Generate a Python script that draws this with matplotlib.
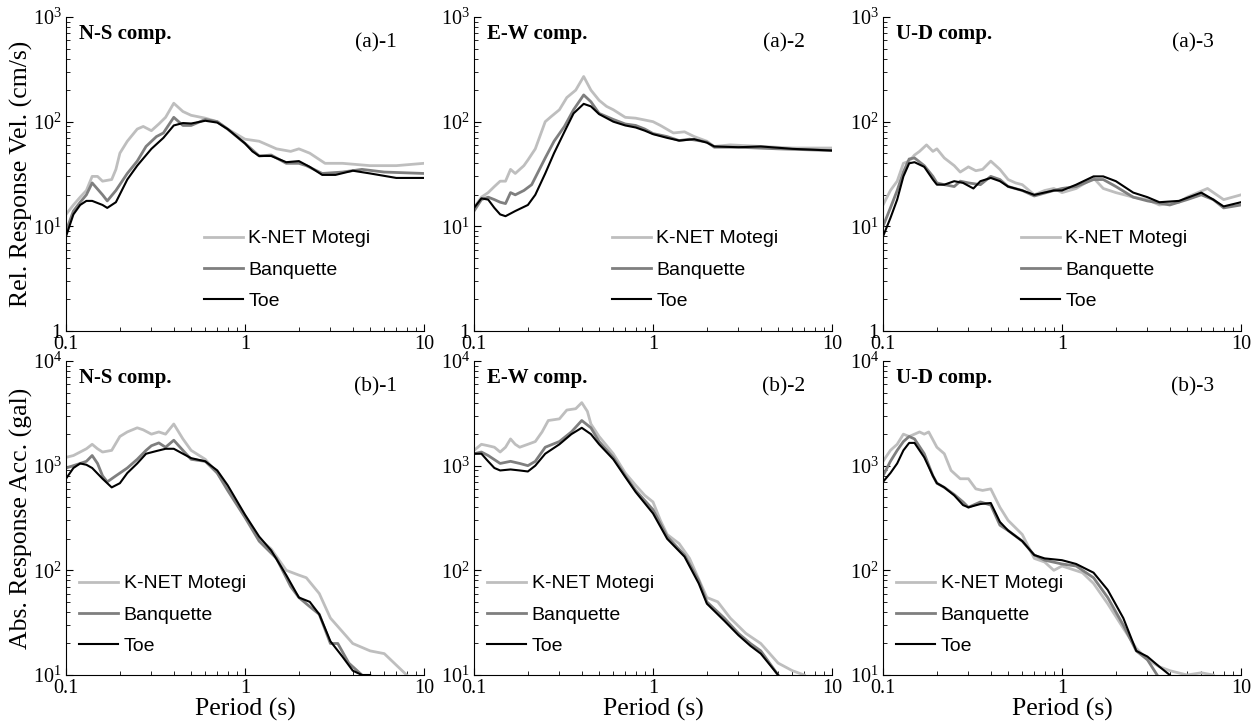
import matplotlib
matplotlib.use('Agg')
import matplotlib.pyplot as plt
from matplotlib.ticker import LogLocator, NullFormatter

plt.rcParams['font.family'] = 'Liberation Serif'
plt.rcParams['mathtext.fontset'] = 'custom'
plt.rcParams['mathtext.rm'] = 'Liberation Serif'
plt.rcParams['mathtext.it'] = 'Liberation Serif:italic'

# ---- (a)-1 N-S relative response velocity (cm/s)
a1_knet_T = [0.1, 0.11, 0.12, 0.13, 0.14, 0.15, 0.16, 0.18, 0.19, 0.2, 0.22, 0.25, 0.27, 0.3, 0.33, 0.36, 0.4, 0.45, 0.5, 0.6, 0.7, 0.8, 1.0, 1.2, 1.5, 1.8, 2.0, 2.3, 2.8, 3.5, 5, 7, 10]
a1_knet_V = [13, 16, 19, 22, 30, 30, 27, 28, 35, 50, 65, 85, 90, 82, 95, 110, 150, 125, 115, 108, 100, 85, 68, 65, 55, 52, 55, 50, 40, 40, 38, 38, 40]
a1_banq_T = [0.1, 0.11, 0.12, 0.13, 0.14, 0.16, 0.17, 0.19, 0.22, 0.25, 0.28, 0.32, 0.35, 0.4, 0.45, 0.5, 0.6, 0.7, 0.8, 1.0, 1.2, 1.4, 1.7, 2.0, 2.2, 2.7, 3.5, 4.5, 6, 10]
a1_banq_V = [9, 14, 17, 20, 26, 20, 17.5, 22, 32, 42, 58, 72, 78, 110, 92, 92, 105, 100, 85, 62, 47, 48, 40, 40, 38, 32, 33, 35, 33, 32]
a1_toe_T = [0.1, 0.11, 0.12, 0.13, 0.14, 0.16, 0.17, 0.19, 0.22, 0.25, 0.3, 0.35, 0.4, 0.45, 0.5, 0.6, 0.7, 0.8, 1.0, 1.1, 1.2, 1.4, 1.7, 2.0, 2.3, 2.7, 3.2, 4, 5, 7, 10]
a1_toe_V = [8, 13, 16, 17.5, 17.5, 16, 15, 17, 28, 38, 55, 70, 92, 97, 96, 102, 98, 85, 62, 52, 47, 47, 41, 42, 37, 31, 31, 34, 32, 29, 29]

# ---- (a)-2 E-W
a2_knet_T = [0.1, 0.11, 0.12, 0.13, 0.14, 0.15, 0.16, 0.17, 0.19, 0.2, 0.22, 0.25, 0.27, 0.3, 0.33, 0.37, 0.41, 0.45, 0.5, 0.55, 0.6, 0.7, 0.8, 1.0, 1.1, 1.3, 1.5, 1.7, 2.0, 2.2, 2.7, 4, 6, 10]
a2_knet_V = [15, 19, 21, 24, 27, 27, 35, 32, 38, 43, 55, 100, 112, 130, 170, 200, 270, 200, 160, 140, 130, 110, 108, 100, 92, 78, 80, 72, 65, 58, 60, 58, 56, 56]
a2_banq_T = [0.1, 0.11, 0.12, 0.13, 0.14, 0.15, 0.16, 0.17, 0.19, 0.21, 0.25, 0.28, 0.32, 0.36, 0.41, 0.45, 0.5, 0.6, 0.7, 0.8, 0.9, 1.0, 1.2, 1.4, 1.6, 2.0, 2.2, 3, 5, 10]
a2_banq_V = [14, 18, 19, 18, 17, 16.5, 21, 20, 22, 25, 45, 65, 90, 130, 180, 155, 120, 105, 95, 92, 85, 77, 72, 66, 68, 64, 57, 57, 55, 53]
a2_toe_T = [0.1, 0.11, 0.12, 0.13, 0.14, 0.15, 0.17, 0.2, 0.22, 0.25, 0.28, 0.32, 0.36, 0.41, 0.45, 0.5, 0.6, 0.7, 0.8, 0.9, 1.0, 1.2, 1.4, 1.7, 2.0, 2.2, 3, 4, 6, 10]
a2_toe_V = [15, 18.5, 18, 15, 13, 12.5, 14, 16, 20, 32, 50, 80, 120, 148, 140, 118, 100, 92, 88, 82, 76, 70, 66, 68, 63, 58, 57, 58, 55, 53]

# ---- (a)-3 U-D
a3_knet_T = [0.1, 0.11, 0.12, 0.13, 0.14, 0.15, 0.16, 0.175, 0.19, 0.2, 0.22, 0.25, 0.27, 0.3, 0.33, 0.36, 0.4, 0.45, 0.5, 0.55, 0.6, 0.7, 0.8, 0.9, 1.0, 1.2, 1.5, 1.7, 2.0, 2.5, 3, 3.5, 4.5, 5, 6.5, 8, 10]
a3_knet_V = [16, 22, 27, 40, 42, 48, 52, 60, 52, 55, 45, 38, 33, 37, 34, 35, 42, 35, 28, 26, 25, 20, 22, 23, 21, 23, 29, 23, 21, 19, 18, 16, 17, 19, 23, 18, 20]
a3_banq_T = [0.1, 0.11, 0.12, 0.13, 0.14, 0.15, 0.17, 0.19, 0.2, 0.22, 0.25, 0.27, 0.3, 0.35, 0.4, 0.45, 0.5, 0.6, 0.7, 0.9, 1.0, 1.2, 1.5, 1.7, 2.0, 2.5, 3, 4, 5, 6, 7, 8, 10]
a3_banq_V = [10, 15, 22, 33, 44, 45, 38, 30, 26, 25, 24, 27, 26, 25, 30, 28, 24, 22, 19.5, 22, 23, 24, 28, 28, 24, 19, 17.5, 16, 18, 20, 18, 15, 16]
a3_toe_T = [0.1, 0.11, 0.12, 0.13, 0.14, 0.15, 0.17, 0.19, 0.2, 0.22, 0.25, 0.28, 0.32, 0.35, 0.4, 0.45, 0.5, 0.6, 0.7, 0.9, 1.0, 1.2, 1.5, 1.7, 2.0, 2.5, 3, 3.5, 4.5, 6, 7, 8, 10]
a3_toe_V = [8, 12, 18, 30, 40, 41, 37, 28, 25, 25, 27, 26, 23, 27, 29, 27, 24, 22, 20, 22, 22, 25, 30, 30, 27, 21, 19, 17, 17.5, 21, 18, 15.5, 17]

# ---- (b)-1 N-S absolute response acceleration (gal)
b1_knet_T = [0.1, 0.11, 0.12, 0.13, 0.14, 0.15, 0.16, 0.18, 0.2, 0.22, 0.25, 0.27, 0.3, 0.33, 0.36, 0.4, 0.45, 0.5, 0.6, 0.7, 0.8, 1.0, 1.2, 1.4, 1.7, 2.0, 2.2, 2.6, 3, 4, 5, 6, 8]
b1_knet_A = [1200, 1250, 1350, 1450, 1600, 1450, 1350, 1400, 1900, 2100, 2300, 2200, 2000, 2100, 2000, 2500, 1800, 1400, 1150, 850, 600, 330, 200, 160, 100, 90, 85, 60, 35, 20, 17, 16, 10]
b1_banq_T = [0.1, 0.11, 0.12, 0.13, 0.14, 0.15, 0.16, 0.17, 0.19, 0.22, 0.25, 0.28, 0.3, 0.33, 0.36, 0.4, 0.45, 0.5, 0.6, 0.7, 0.8, 1.0, 1.2, 1.5, 1.8, 2.0, 2.3, 2.6, 3, 3.3, 3.8, 4.5]
b1_banq_A = [950, 1000, 1050, 1100, 1250, 1050, 800, 700, 800, 950, 1150, 1400, 1550, 1650, 1500, 1750, 1400, 1150, 1100, 850, 580, 320, 190, 130, 70, 55, 45, 38, 20, 20, 13, 10]
b1_toe_T = [0.1, 0.11, 0.12, 0.13, 0.14, 0.16, 0.18, 0.2, 0.22, 0.25, 0.28, 0.32, 0.36, 0.4, 0.45, 0.5, 0.6, 0.7, 0.8, 1.0, 1.2, 1.4, 1.7, 2.0, 2.3, 2.6, 3, 3.5, 4, 4.5, 5]
b1_toe_A = [750, 950, 1050, 1020, 950, 750, 620, 680, 850, 1050, 1300, 1380, 1450, 1450, 1300, 1180, 1100, 900, 650, 340, 210, 155, 90, 55, 50, 38, 21, 15, 11, 10, 10]

# ---- (b)-2 E-W
b2_knet_T = [0.1, 0.11, 0.12, 0.13, 0.14, 0.15, 0.16, 0.17, 0.18, 0.2, 0.22, 0.24, 0.26, 0.3, 0.33, 0.37, 0.4, 0.43, 0.45, 0.5, 0.6, 0.7, 0.8, 0.9, 1.0, 1.1, 1.2, 1.4, 1.6, 2.0, 2.3, 2.7, 3.3, 4, 5, 6, 7]
b2_knet_A = [1400, 1600, 1550, 1500, 1350, 1500, 1800, 1600, 1500, 1600, 1700, 2100, 2700, 2800, 3400, 3500, 4000, 3300, 2500, 1900, 1300, 850, 650, 520, 450, 300, 220, 180, 130, 55, 50, 35, 25, 20, 13, 11, 10]
b2_banq_T = [0.1, 0.11, 0.12, 0.14, 0.16, 0.18, 0.2, 0.22, 0.25, 0.3, 0.35, 0.4, 0.45, 0.5, 0.6, 0.7, 0.8, 1.0, 1.2, 1.5, 1.8, 2.0, 2.5, 3, 3.5, 4, 5]
b2_banq_A = [1300, 1350, 1250, 1050, 1100, 1050, 1000, 1100, 1500, 1700, 2100, 2700, 2300, 1700, 1200, 800, 580, 380, 210, 140, 80, 50, 35, 25, 20, 17, 10]
b2_toe_T = [0.1, 0.11, 0.12, 0.13, 0.14, 0.16, 0.18, 0.2, 0.22, 0.25, 0.3, 0.35, 0.4, 0.45, 0.5, 0.6, 0.7, 0.8, 1.0, 1.2, 1.5, 1.8, 2.0, 2.5, 3, 3.5, 4, 5]
b2_toe_A = [1300, 1300, 1100, 950, 900, 920, 900, 880, 1000, 1300, 1600, 2000, 2300, 2000, 1600, 1150, 780, 560, 350, 200, 135, 75, 48, 33, 24, 19, 16, 10]

# ---- (b)-3 U-D
b3_knet_T = [0.1, 0.11, 0.12, 0.13, 0.14, 0.15, 0.16, 0.17, 0.18, 0.2, 0.22, 0.24, 0.27, 0.3, 0.33, 0.36, 0.4, 0.45, 0.5, 0.6, 0.7, 0.8, 0.9, 1.0, 1.3, 1.5, 1.8, 2.2, 2.6, 3, 3.5, 4, 5, 6, 7]
b3_knet_A = [1100, 1400, 1600, 2000, 1900, 2000, 2100, 2000, 2100, 1500, 1300, 900, 750, 750, 600, 580, 600, 400, 300, 220, 130, 120, 100, 110, 95, 75, 48, 28, 18, 14, 12, 11, 10, 10.5, 10]
b3_banq_T = [0.1, 0.11, 0.12, 0.13, 0.14, 0.15, 0.17, 0.19, 0.2, 0.22, 0.25, 0.28, 0.3, 0.35, 0.4, 0.45, 0.5, 0.6, 0.7, 0.8, 1.0, 1.2, 1.5, 1.8, 2.2, 2.6, 3, 3.4]
b3_banq_A = [800, 1100, 1400, 1700, 1900, 1800, 1300, 800, 680, 620, 530, 450, 400, 450, 420, 270, 240, 190, 140, 125, 115, 110, 85, 55, 30, 17, 14, 10]
b3_toe_T = [0.1, 0.11, 0.12, 0.13, 0.14, 0.15, 0.17, 0.19, 0.2, 0.22, 0.25, 0.28, 0.3, 0.35, 0.4, 0.45, 0.5, 0.6, 0.7, 0.8, 1.0, 1.2, 1.5, 1.8, 2.2, 2.6, 3, 3.5, 4]
b3_toe_A = [700, 850, 1050, 1400, 1650, 1650, 1200, 800, 680, 620, 520, 420, 400, 430, 440, 290, 240, 190, 140, 130, 125, 115, 95, 65, 35, 17, 15, 12, 10]

labels = ['K-NET Motegi', 'Banquette', 'Toe']
colors = ['#bebebe', '#7f7f7f', '#000000']
widths = [2.0, 2.0, 1.5]

panels = [
    ('N-S comp.', '(a)-1', [(a1_knet_T, a1_knet_V), (a1_banq_T, a1_banq_V), (a1_toe_T, a1_toe_V)]),
    ('E-W comp.', '(a)-2', [(a2_knet_T, a2_knet_V), (a2_banq_T, a2_banq_V), (a2_toe_T, a2_toe_V)]),
    ('U-D comp.', '(a)-3', [(a3_knet_T, a3_knet_V), (a3_banq_T, a3_banq_V), (a3_toe_T, a3_toe_V)]),
    ('N-S comp.', '(b)-1', [(b1_knet_T, b1_knet_A), (b1_banq_T, b1_banq_A), (b1_toe_T, b1_toe_A)]),
    ('E-W comp.', '(b)-2', [(b2_knet_T, b2_knet_A), (b2_banq_T, b2_banq_A), (b2_toe_T, b2_toe_A)]),
    ('U-D comp.', '(b)-3', [(b3_knet_T, b3_knet_A), (b3_banq_T, b3_banq_A), (b3_toe_T, b3_toe_A)]),
]

W, H = 1260, 724
fig = plt.figure(figsize=(W / 100, H / 100), dpi=100)

lefts = [66, 474, 883]
aw, ah = 358, 314
bottoms = [331, 675]

for i, (comp, tag, series) in enumerate(panels):
    row, col = divmod(i, 3)
    ax = fig.add_axes([lefts[col] / W, (H - bottoms[row]) / H, aw / W, ah / H])
    for (T, v), lab, c, lw in zip(series, labels, colors, widths):
        ax.plot(T, v, color=c, lw=lw, label=lab)
    ax.set_xscale('log')
    ax.set_yscale('log')
    ax.set_xlim(0.1, 10)
    if row == 0:
        ax.set_ylim(1, 1000)
        ax.set_yticks([1, 10, 100, 1000])
        ax.set_yticklabels(['1', '$10^1$', '$10^2$', '$10^3$'])
    else:
        ax.set_ylim(10, 10000)
        ax.set_yticks([10, 100, 1000, 10000])
        ax.set_yticklabels(['$10^1$', '$10^2$', '$10^3$', '$10^4$'])
    ax.set_xticks([0.1, 1, 10])
    ax.set_xticklabels(['0.1', '1', '10'])
    ax.xaxis.set_minor_locator(LogLocator(base=10, subs=range(2, 10)))
    ax.yaxis.set_minor_locator(LogLocator(base=10, subs=range(2, 10)))
    ax.xaxis.set_minor_formatter(NullFormatter())
    ax.yaxis.set_minor_formatter(NullFormatter())
    ax.spines['top'].set_visible(False)
    ax.spines['right'].set_visible(False)
    ax.tick_params(which='both', direction='in', labelsize=14.5, pad=3)
    ax.tick_params(which='major', length=5)
    ax.tick_params(which='minor', length=3)
    ax.text(0.035, 0.945, comp, transform=ax.transAxes, fontsize=15,
            fontweight='bold', ha='left', va='center')
    ax.text(0.865, 0.918, tag, transform=ax.transAxes, fontsize=15.5,
            ha='center', va='center')
    if row == 0:
        leg_anchor = (0.363, 0.347)
    else:
        leg_anchor = (0.015, 0.344)
    ax.legend(loc='upper left', bbox_to_anchor=leg_anchor, frameon=False,
              prop={'family': 'Liberation Sans', 'size': 14},
              handlelength=2.0, handletextpad=0.3, labelspacing=0.7,
              borderaxespad=0)
    if col == 0:
        ax.set_ylabel('Rel. Response Vel. (cm/s)' if row == 0 else 'Abs. Response Acc. (gal)',
                      fontsize=18.5, labelpad=0)
    if row == 1:
        ax.set_xlabel('Period (s)', fontsize=18.5, labelpad=0)

fig.savefig('out.png', dpi=100)
